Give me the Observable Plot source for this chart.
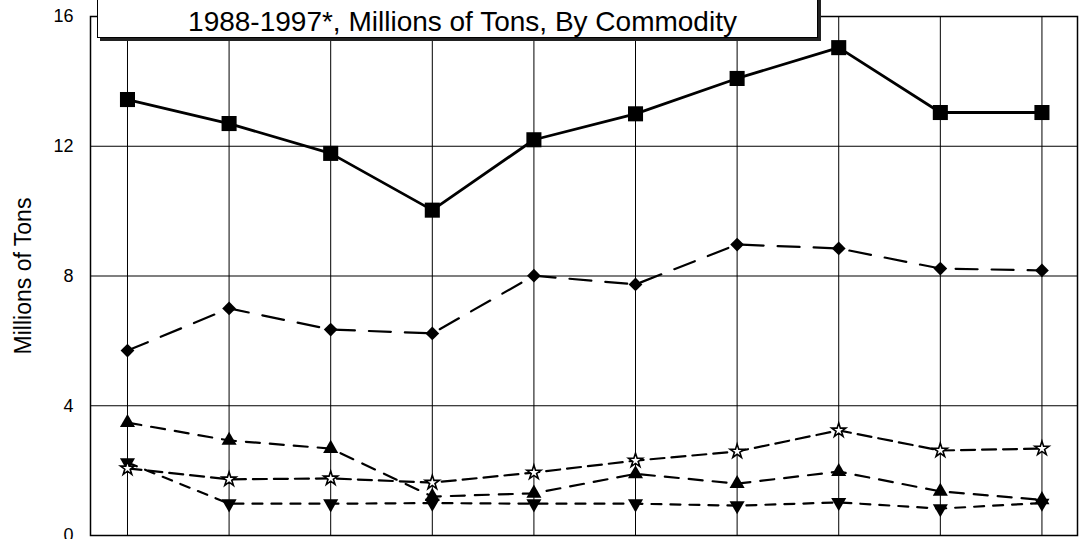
<!DOCTYPE html>
<html>
<head>
<meta charset="utf-8">
<script src="https://cdn.jsdelivr.net/npm/d3@7"></script>
<script src="https://cdn.jsdelivr.net/npm/@observablehq/plot@0.6"></script>
<style>
  html, body { margin: 0; padding: 0; background: #fff; overflow: hidden; }
  #wrap { position: relative; width: 1080px; height: 539px; font-family: "Liberation Sans", Arial, Helvetica, sans-serif; }
  #titlebox {
    position: absolute; left: 97px; top: -10px; width: 719px; height: 46px;
    background: #fff; border: 1px solid #000; box-shadow: 3px 3px 0 #222;
  }
  #titlebox span {
    position: absolute; left: 10px; right: 0; top: 17px; text-align: center;
    font-size: 28px; line-height: 28px; color: #000; white-space: nowrap;
  }
</style>
</head>
<body>
<div id="wrap"></div>
<script>
// ---- data ----
const years = [1988, 1989, 1990, 1991, 1992, 1993, 1994, 1995, 1996, 1997];
const seriesSquare   = [13.44, 12.70, 11.78, 10.03, 12.20, 13.00, 14.09, 15.04, 13.04, 13.04];
const seriesDiamond  = [5.70, 7.00, 6.35, 6.23, 8.01, 7.74, 8.97, 8.85, 8.23, 8.17];
const seriesTriUp    = [3.48, 2.93, 2.68, 1.20, 1.30, 1.90, 1.60, 1.97, 1.36, 1.10];
const seriesStar     = [2.07, 1.73, 1.76, 1.63, 1.94, 2.31, 2.59, 3.24, 2.62, 2.68];
const seriesTriDown  = [2.25, 0.98, 0.98, 1.00, 0.98, 0.98, 0.92, 1.02, 0.83, 1.00];
const yTicks = [0, 4, 8, 12, 16];
const titleText = "1988-1997*, Millions of Tons, By Commodity";
const yLabel = "Millions of Tons";

const toRows = (vals) => years.map((year, i) => ({year, value: vals[i]}));
const sq = toRows(seriesSquare);
const di = toRows(seriesDiamond);
const tu = toRows(seriesTriUp);
const st = toRows(seriesStar);
const td = toRows(seriesTriDown);

const plot = Plot.plot({
  width: 1080,
  height: 539,
  marginTop: 16,
  marginBottom: 4,
  marginLeft: 90,
  marginRight: 3,
  style: {fontFamily: '"Liberation Sans", Arial, Helvetica, sans-serif', fontSize: "18px", background: "#fff", color: "#000"},
  x: {type: "linear", domain: [1987.636, 1997.35], axis: null},
  y: {domain: [0, 16], axis: null},
  marks: [
    Plot.ruleY(yTicks.filter(d => d > 0 && d < 16), {stroke: "#000", strokeWidth: 1.2}),
    Plot.ruleX(years, {stroke: "#000", strokeWidth: 1}),
    Plot.frame({stroke: "#000", strokeWidth: 1.5}),
    Plot.axisY({ticks: yTicks, tickSize: 0, tickPadding: 17, fontSize: 18, label: null}),
    Plot.text([yLabel], {frameAnchor: "left", dx: -67, rotate: -90, textAnchor: "middle", lineAnchor: "middle", fontSize: 23, fill: "#000"}),

    Plot.line(tu, {x: "year", y: "value", stroke: "#000", strokeWidth: 2.2, strokeDasharray: "14,10"}),
    Plot.line(st, {x: "year", y: "value", stroke: "#000", strokeWidth: 2.2, strokeDasharray: "14,7"}),
    Plot.line(td, {x: "year", y: "value", stroke: "#000", strokeWidth: 2.2, strokeDasharray: "10,9"}),
    Plot.line(di, {x: "year", y: "value", stroke: "#000", strokeWidth: 2.2, strokeDasharray: "22,14"}),
    Plot.line(sq, {x: "year", y: "value", stroke: "#000", strokeWidth: 2.8}),

    Plot.dot(td, {x: "year", y: "value", symbol: "triangle", rotate: 180, r: 5.6, fill: "#000", stroke: "none"}),
    Plot.dot(tu, {x: "year", y: "value", symbol: "triangle", r: 5.6, fill: "#000", stroke: "none"}),
    Plot.dot(st, {x: "year", y: "value", symbol: "star", r: 4.4, fill: "#fff", stroke: "#000", strokeWidth: 1.6}),
    Plot.dot(di, {x: "year", y: "value", symbol: "diamond2", r: 6.2, fill: "#000", stroke: "none"}),
    Plot.dot(sq, {x: "year", y: "value", symbol: "square", r: 8.5, fill: "#000", stroke: "none"})
  ]
});

const wrap = document.getElementById("wrap");
wrap.appendChild(plot);
const box = document.createElement("div");
box.id = "titlebox";
const span = document.createElement("span");
span.textContent = titleText;
box.appendChild(span);
wrap.appendChild(box);
</script>
</body>
</html>
